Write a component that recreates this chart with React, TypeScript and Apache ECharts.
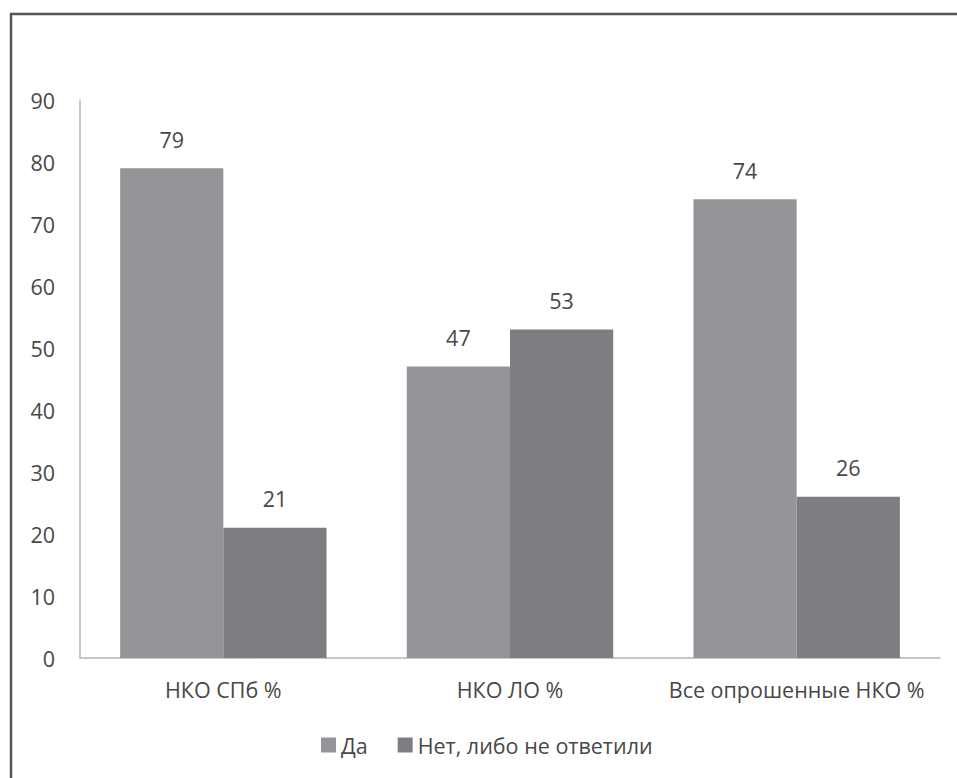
import React, { useEffect, useRef } from "react";
import * as echarts from "echarts";

const categories = ["НКО СПб %", "НКО ЛО %", "Все опрошенные НКО %"];
const seriesNames = ["Да", "Нет, либо не ответили"];
const yesValues = [79, 47, 74];
const noValues = [21, 53, 26];

export default function App() {
  const ref = useRef<HTMLDivElement>(null);
  useEffect(() => {
    document.body.style.margin = "0";
    const chart = echarts.init(ref.current!, null, { renderer: "svg" });
    const font = "'Open Sans', 'DejaVu Sans', sans-serif";
    const fs = 21.5;
    const tc = "#484848";
    chart.setOption({
      animation: false,
      backgroundColor: "#ffffff",
      textStyle: { fontFamily: font },
      grid: { left: 80, right: 17, top: 100, bottom: 120, containLabel: false },
      legend: {
        bottom: 17,
        left: 316,
        itemWidth: 15,
        itemHeight: 15,
        itemGap: 30,
        icon: "rect",
        textStyle: { fontSize: fs, color: tc, fontFamily: font },
        data: seriesNames,
      },
      xAxis: {
        type: "category",
        data: categories,
        axisLine: { show: true, lineStyle: { color: "#b4b4b4", width: 1.5 } },
        axisTick: { show: false },
        axisLabel: { fontSize: fs, color: tc, margin: 20, interval: 0, fontFamily: font },
      },
      yAxis: {
        type: "value",
        min: 0,
        max: 90,
        interval: 10,
        splitLine: { show: false },
        axisLine: { show: true, lineStyle: { color: "#b4b4b4", width: 1.5 } },
        axisTick: { show: false },
        axisLabel: { fontSize: fs, color: tc, margin: 25, fontFamily: font },
      },
      graphic: [
        {
          type: "rect",
          shape: { x: 11, y: 14, width: 1000, height: 800 },
          style: { fill: "none", stroke: "#555", lineWidth: 2.5 },
          silent: true,
        },
      ],
      series: [
        {
          name: seriesNames[0],
          type: "bar",
          data: yesValues,
          barGap: "0%",
          barCategoryGap: "28%",
          itemStyle: { color: "#959599" },
          label: { show: true, position: "top", distance: 18, fontSize: fs, color: tc, fontFamily: font },
        },
        {
          name: seriesNames[1],
          type: "bar",
          data: noValues,
          barGap: "0%",
          barCategoryGap: "28%",
          itemStyle: { color: "#7e7e82" },
          label: { show: true, position: "top", distance: 18, fontSize: fs, color: tc, fontFamily: font },
        },
      ],
    });
    return () => chart.dispose();
  }, []);
  return <div ref={ref} style={{ width: 957, height: 778 }} />;
}
